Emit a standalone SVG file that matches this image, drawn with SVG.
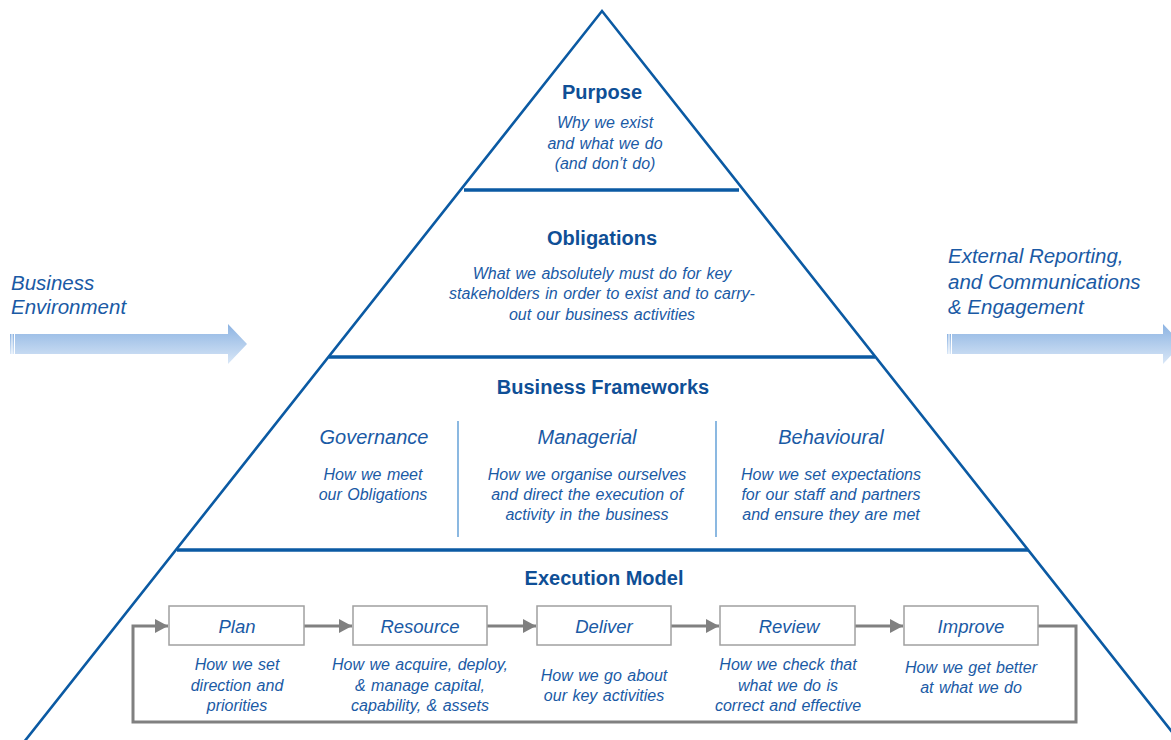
<svg xmlns="http://www.w3.org/2000/svg" width="1171" height="740" viewBox="0 0 1171 740">
  <style>
    .edge { stroke: #0b5aa3; stroke-width: 2.6; fill: none; stroke-linecap: round; }
    .band { stroke: #0b5aa3; stroke-width: 3.6; fill: none; }
    .sep { stroke: #5b9bd5; stroke-width: 1.4; }
    .head { font-family: "Liberation Sans", Arial, sans-serif; font-weight: bold; font-size: 20px; fill: #0f4f96; text-anchor: middle; }
    .cat { font-family: "Liberation Sans", Arial, sans-serif; font-style: italic; font-size: 20px; fill: #1a5aa5; text-anchor: middle; }
    .sub { font-family: "Liberation Sans", Arial, sans-serif; font-style: italic; font-size: 16px; fill: #1a5aa5; text-anchor: middle; word-spacing: 1px; }
    .side { font-family: "Liberation Sans", Arial, sans-serif; font-style: italic; font-size: 20.5px; fill: #1a5aa5; }
    .box { fill: #ffffff; stroke: #a0a0a0; stroke-width: 1.5; }
    .boxlabel { font-family: "Liberation Sans", Arial, sans-serif; font-style: italic; font-size: 18.5px; fill: #1a5aa5; text-anchor: middle; }
    .flow { stroke: #808080; stroke-width: 3; fill: none; }
  </style>
  <defs>
    <linearGradient id="arrowFill" x1="0" y1="0" x2="0" y2="1">
      <stop offset="0" stop-color="#8cb3e2"/>
      <stop offset="1" stop-color="#d9e7f7"/>
    </linearGradient>
    <marker id="tip" markerUnits="userSpaceOnUse" markerWidth="14" markerHeight="14" refX="13" refY="7" orient="auto">
      <path d="M0,0 L13,7 L0,14 Z" fill="#808080"/>
    </marker>
  </defs>

  <rect width="1171" height="740" fill="#ffffff"/>

  <!-- side arrows -->
  <g id="input-arrow">
    <rect x="10" y="334" width="1.5" height="20" fill="url(#arrowFill)"/>
    <rect x="12.5" y="334" width="1.5" height="20" fill="url(#arrowFill)"/>
    <path d="M15,334 H228 V324 L247,344 L228,364 V354 H15 Z" fill="url(#arrowFill)"/>
    <text class="side" x="11" y="290">Business</text>
    <text class="side" x="11" y="314">Environment</text>
  </g>
  <g id="output-arrow">
    <rect x="947" y="334" width="1.5" height="20" fill="url(#arrowFill)"/>
    <rect x="949.5" y="334" width="1.5" height="20" fill="url(#arrowFill)"/>
    <path d="M952,334 H1163 V324 L1182,344 L1163,364 V354 H952 Z" fill="url(#arrowFill)"/>
    <text class="side" x="948" y="263">External Reporting,</text>
    <text class="side" x="948" y="289">and Communications</text>
    <text class="side" x="948" y="314">&amp; Engagement</text>
  </g>

  <!-- pyramid outline and tiers -->
  <g id="pyramid">
    <path class="edge" d="M24,742 L602,11 L1180,742"/>
    <line class="band" x1="464" y1="190" x2="739" y2="190"/>
    <line class="band" x1="329" y1="357" x2="875" y2="357"/>
    <line class="band" x1="177" y1="550" x2="1028" y2="550"/>
  </g>

  <g id="purpose">
    <text class="head" x="602" y="99">Purpose</text>
    <text class="sub" x="605" y="128">Why we exist</text>
    <text class="sub" x="605" y="149">and what we do</text>
    <text class="sub" x="605" y="169">(and don’t do)</text>
  </g>

  <g id="obligations">
    <text class="head" x="602" y="245">Obligations</text>
    <text class="sub" x="602" y="279">What we absolutely must do for key</text>
    <text class="sub" x="602" y="299">stakeholders in order to exist and to carry-</text>
    <text class="sub" x="602" y="320">out our business activities</text>
  </g>

  <g id="business-frameworks">
    <text class="head" x="603" y="394">Business Frameworks</text>
    <line class="sep" x1="458" y1="421" x2="458" y2="537"/>
    <line class="sep" x1="716" y1="421" x2="716" y2="537"/>
  </g>
  <g id="governance">
    <text class="cat" x="374" y="444">Governance</text>
    <text class="sub" x="373" y="480">How we meet</text>
    <text class="sub" x="373" y="500">our Obligations</text>
  </g>
  <g id="managerial">
    <text class="cat" x="587" y="444">Managerial</text>
    <text class="sub" x="587" y="480">How we organise ourselves</text>
    <text class="sub" x="587" y="500">and direct the execution of</text>
    <text class="sub" x="587" y="520">activity in the business</text>
  </g>
  <g id="behavioural">
    <text class="cat" x="831" y="444">Behavioural</text>
    <text class="sub" x="831" y="480">How we set expectations</text>
    <text class="sub" x="831" y="500">for our staff and partners</text>
    <text class="sub" x="831" y="520">and ensure they are met</text>
  </g>

  <g id="execution-model">
    <text class="head" x="604" y="585">Execution Model</text>
  </g>

  <!-- cycle connectors -->
  <g id="connectors">
    <line class="flow" x1="304" y1="626" x2="352" y2="626" marker-end="url(#tip)"/>
    <line class="flow" x1="487" y1="626" x2="536" y2="626" marker-end="url(#tip)"/>
    <line class="flow" x1="671" y1="626" x2="719" y2="626" marker-end="url(#tip)"/>
    <line class="flow" x1="855" y1="626" x2="903" y2="626" marker-end="url(#tip)"/>
    <path class="flow" stroke-width="3.5" d="M1038,626 H1076 V722 H133 V626 H168" marker-end="url(#tip)"/>
  </g>

  <g id="plan">
    <rect class="box" x="169" y="606" width="135" height="39"/>
    <text class="boxlabel" x="237" y="633">Plan</text>
    <text class="sub" x="237" y="670">How we set</text>
    <text class="sub" x="237" y="691">direction and</text>
    <text class="sub" x="237" y="711">priorities</text>
  </g>
  <g id="resource">
    <rect class="box" x="353" y="606" width="134" height="39"/>
    <text class="boxlabel" x="420" y="633">Resource</text>
    <text class="sub" x="420" y="670">How we acquire, deploy,</text>
    <text class="sub" x="420" y="691">&amp; manage capital,</text>
    <text class="sub" x="420" y="711">capability, &amp; assets</text>
  </g>
  <g id="deliver">
    <rect class="box" x="537" y="606" width="134" height="39"/>
    <text class="boxlabel" x="604" y="633">Deliver</text>
    <text class="sub" x="604" y="681">How we go about</text>
    <text class="sub" x="604" y="701">our key activities</text>
  </g>
  <g id="review">
    <rect class="box" x="720" y="606" width="135" height="39"/>
    <text class="boxlabel" x="789" y="633">Review</text>
    <text class="sub" x="788" y="670">How we check that</text>
    <text class="sub" x="788" y="691">what we do is</text>
    <text class="sub" x="788" y="711">correct and effective</text>
  </g>
  <g id="improve">
    <rect class="box" x="904" y="606" width="134" height="39"/>
    <text class="boxlabel" x="971" y="633">Improve</text>
    <text class="sub" x="971" y="673">How we get better</text>
    <text class="sub" x="971" y="693">at what we do</text>
  </g>
</svg>
